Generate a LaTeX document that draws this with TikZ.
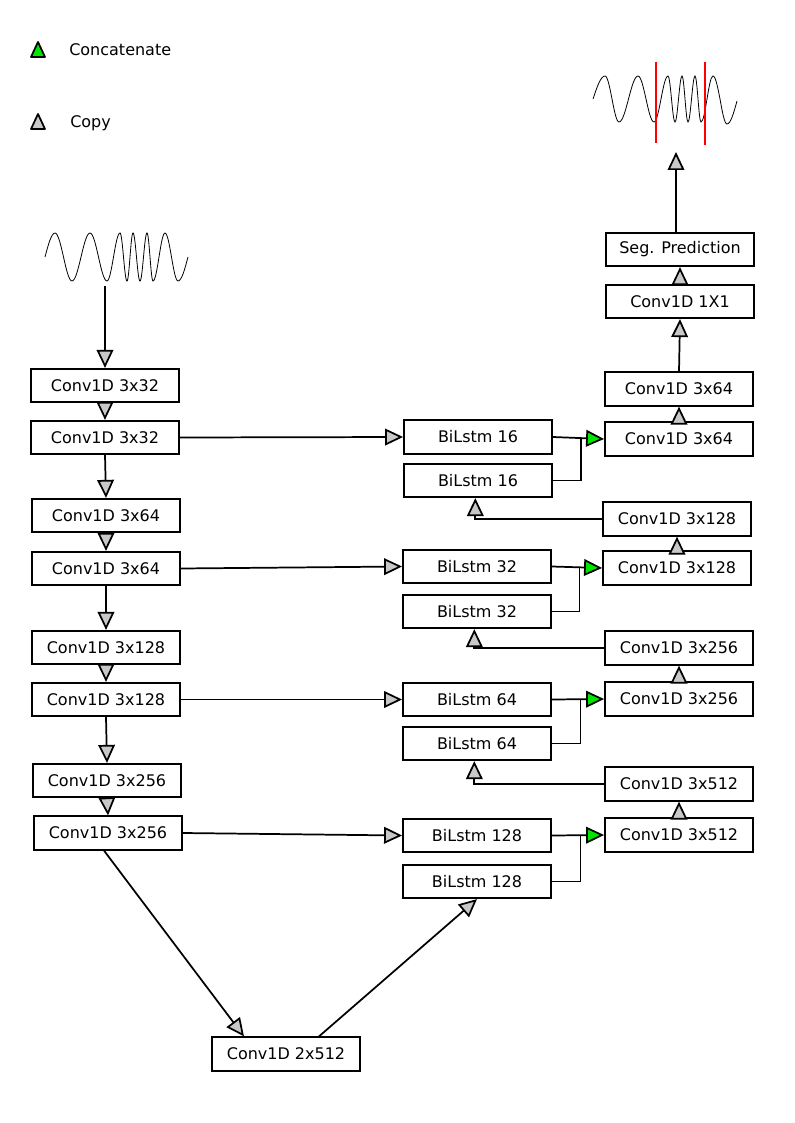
\documentclass[tikz,border=0pt]{standalone}
\usepackage{fontspec}
\setmainfont{DejaVu Sans}
\usepackage{xcolor}
\usetikzlibrary{arrows.meta,calc,positioning}
\definecolor{copygray}{RGB}{200,200,200}
\definecolor{catgreen}{RGB}{0,230,0}

\begin{document}
\begin{tikzpicture}[x=0.75pt,y=-0.75pt,
        blk/.style={draw, line width=1.4pt, minimum width=111pt, minimum height=25pt, inner sep=0pt, font=\fontsize{12}{14}\selectfont},
        cp/.style={line width=1.3pt, -{Triangle[length=13.5pt,width=12.5pt,fill=copygray]}},
        cat/.style={line width=1.3pt, -{Triangle[length=13.5pt,width=12.5pt,fill=catgreen]}},
        wave/.style={line width=0.6pt}]
        \useasboundingbox (0,0) rectangle (794,1123);
        % legend
        \draw[line width=1.3pt, fill=catgreen, line join=round] (31,57) -- (38,42) -- (45,57) -- cycle;
        \node[anchor=west, inner sep=0pt, font=\fontsize{12}{14}\selectfont] (lcat) at (69,50) {Concatenate};
        \draw[line width=1.3pt, fill=copygray, line join=round] (31,129) -- (38,114) -- (45,129) -- cycle;
        \node[anchor=west, inner sep=0pt, font=\fontsize{12}{14}\selectfont] (lcopy) at (70,123) {Copy};
        % signals
        \draw[wave] (45,257) sin (55,233) cos (63.5,257) sin (72,281) cos (81,257) sin (90,233) cos (98.5,257) sin (107,281)
            cos (113.5,257) sin (120,233) cos (123.5,257) sin (127,281) cos (130,257) sin (133,233) cos (136.5,257) sin (140,281)
            cos (143.5,257) sin (147,233) cos (150,257) sin (153,281) cos (159,257) sin (165,233) cos (171.5,257) sin (178,281) cos (188,257);
        \draw[wave] (593,99) sin (605,76) cos (612,99) sin (619,122) cos (628.5,99) sin (638,76) cos (646,99) sin (654,122)
            cos (661,99) sin (668,76) cos (671.5,99) sin (675,122) cos (678.5,99) sin (682,76) cos (685,99) sin (688,122)
            cos (691.5,99) sin (695,76) cos (698,99) sin (701,122) cos (707,99) sin (713,76) cos (720,99) sin (727,124) cos (737,101);
        \draw[red, line width=2.2pt] (656,62) -- (656,143);
        \draw[red, line width=2.2pt] (705,62) -- (705,145);
        \coordinate (wavein) at (105,286);
        \coordinate (waveout) at (676,152);
        % encoder
        \node[blk] (c1) at (105,385.5) {Conv1D 3x32};
        \node[blk] (c2) at (105,437.5) {Conv1D 3x32};
        \node[blk] (c3) at (106,515.5) {Conv1D 3x64};
        \node[blk] (c4) at (106,568.5) {Conv1D 3x64};
        \node[blk] (c5) at (106,647.5) {Conv1D 3x128};
        \node[blk] (c6) at (106,699.5) {Conv1D 3x128};
        \node[blk] (c7) at (107,780.5) {Conv1D 3x256};
        \node[blk] (c8) at (108,833) {Conv1D 3x256};
        \node[blk] (bot) at (286,1054) {Conv1D 2x512};
        % skip lstms
        \node[blk] (b1) at (478,437) {BiLstm 16};
        \node[blk] (b2) at (478,480.5) {BiLstm 16};
        \node[blk] (b3) at (477,566.5) {BiLstm 32};
        \node[blk] (b4) at (477,611.5) {BiLstm 32};
        \node[blk] (b5) at (477,699.5) {BiLstm 64};
        \node[blk] (b6) at (477,743.5) {BiLstm 64};
        \node[blk] (b7) at (477,835.5) {BiLstm 128};
        \node[blk] (b8) at (477,881.5) {BiLstm 128};
        % decoder
        \node[blk] (seg) at (680,249.5) {Seg. Prediction};
        \node[blk] (one) at (680,301.5) {Conv1D 1X1};
        \node[blk] (r1) at (679,389) {Conv1D 3x64};
        \node[blk] (r2) at (679,439) {Conv1D 3x64};
        \node[blk] (r3) at (677,519) {Conv1D 3x128};
        \node[blk] (r4) at (677,568) {Conv1D 3x128};
        \node[blk] (r5) at (679,648) {Conv1D 3x256};
        \node[blk] (r6) at (679,699) {Conv1D 3x256};
        \node[blk] (r7) at (679,784) {Conv1D 3x512};
        \node[blk] (r8) at (679,835) {Conv1D 3x512};
        % connections
        \draw[cp] (wavein) -- (c1.north);
        \foreach \a/\b in {c1/c2,c2/c3,c3/c4,c4/c5,c5/c6,c6/c7,c7/c8}
            \draw[cp] (\a.south) -- (\b.north);
        \foreach \a/\b in {c2/b1,c4/b3,c6/b5,c8/b7}
            \draw[cp] (\a.east) -- (\b.west);
        \draw[cp] ([xshift=-3pt]c8.south) -- ($(bot.north)+(-42,0)$);
        \draw[cp] ($(bot.north)+(33,0)$) -- (b8.south);
        \foreach \a/\b/\r/\j in {b1/b2/r2/j1,b3/b4/r4/j2,b5/b6/r6/j3,b7/b8/r8/j4} {
            \draw[cat] (\a.east) -- coordinate[pos=0.55] (\j) (\r.west);
            \draw[line width=1.3pt] (\b.east) -| (\j);
        }
        \foreach \a/\b in {r3/b2,r5/b4,r7/b6}
            \draw[cp] (\a.west) -| ([xshift=-2pt]\b.south);
        \foreach \a/\b in {r8/r7,r6/r5,r4/r3,r2/r1,r1/one,one/seg}
            \draw[cp] (\a.north) -- (\b.south);
        \draw[cp] (seg.north -| waveout) -- (waveout);
\end{tikzpicture}
\end{document}
